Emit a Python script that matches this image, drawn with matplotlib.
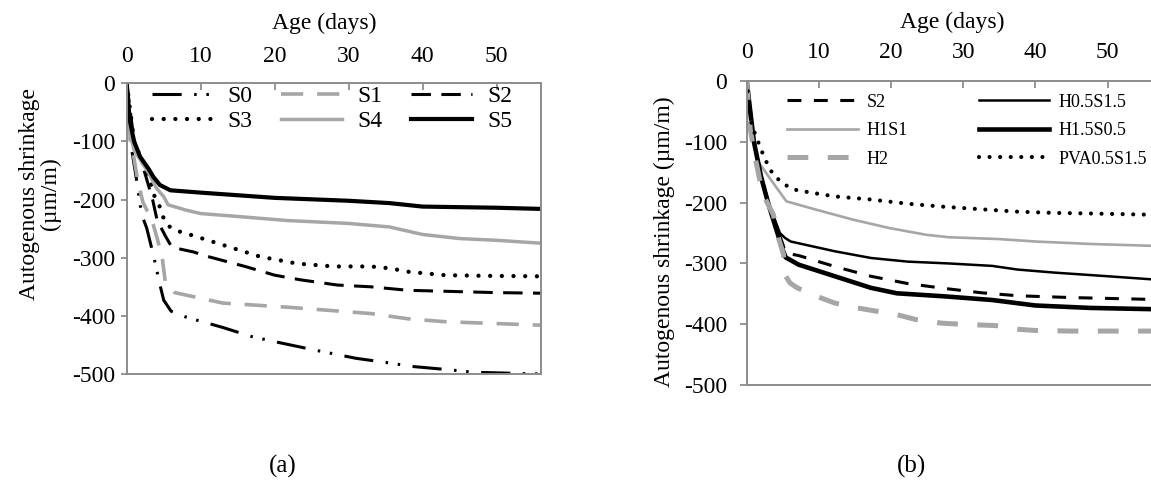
import matplotlib
matplotlib.use("Agg")
import matplotlib.pyplot as plt

plt.rcParams['font.family'] = ['Liberation Serif', 'DejaVu Serif']
plt.rcParams['axes.unicode_minus'] = False
plt.rcParams['lines.scale_dashes'] = False

# ---------------- data: panel (a) ----------------
S0_days = [0, 0.5, 1.4, 2.0, 2.7, 3.6, 4.5, 5.0, 6.0, 8, 13, 17, 21, 25.5, 31, 35, 38.6, 43, 47, 56]
S0_vals = [0, -100, -172, -225, -249, -295, -347, -373, -392, -402, -420, -436, -447, -459, -473, -480, -487, -492, -497, -500]
S1_days = [0, 0.5, 1.0, 1.5, 2.2, 3.4, 4.1, 4.8, 5.2, 6.5, 13, 21.7, 33, 38, 43, 56]
S1_vals = [0, -100, -130, -168, -205, -235, -266, -300, -340, -360, -378, -385, -396, -405, -410, -416]
S2_days = [0, 1, 2, 2.7, 3.5, 4.1, 5.2, 6.1, 9, 11, 16, 20, 23.5, 28.5, 33, 38, 44, 50, 56]
S2_vals = [0, -100, -135, -165, -200, -235, -262, -282, -290, -298, -315, -330, -338, -347, -350, -356, -358, -360, -361]
S3_days = [0, 1, 2, 3, 3.6, 4.4, 5.2, 6.3, 8, 13, 18, 23, 28, 33, 35.5, 38, 43, 48, 56]
S3_vals = [0, -100, -132, -160, -190, -210, -240, -252, -258, -278, -298, -310, -315, -315, -318, -324, -330, -331, -332]
S4_days = [0, 0.3, 1, 2, 3, 4, 5, 5.6, 8, 10, 15, 21.7, 30, 35.5, 40, 45, 50, 56]
S4_vals = [0, -80, -115, -135, -155, -180, -195, -209, -218, -224, -229, -236, -241, -247, -260, -267, -270, -275]
S5_days = [0, 0.4, 1, 1.8, 3, 3.6, 4.5, 5.9, 10, 20, 30, 35.5, 40, 45, 50, 56]
S5_vals = [0, -63, -100, -126, -148, -161, -175, -184, -188, -197, -202, -206, -212, -213, -214, -216]

# ---------------- data: panel (b) ----------------
S2b_days = [0, 1, 2, 3, 4, 5, 5.4, 7.2, 12.2, 17.2, 22.3, 27.4, 32.4, 37.5, 45, 56]
S2b_vals = [0, -100, -158, -200, -235, -268, -283, -287, -305, -321, -333, -341, -348, -353, -356, -359]
H05_days = [0, 1, 2, 3, 4, 4.6, 5.3, 6.1, 12.2, 17.2, 22.3, 28, 34, 37.5, 42.6, 50, 56]
H05_vals = [0, -100, -155, -198, -231, -250, -258, -264, -280, -291, -297, -300, -304, -310, -315, -321, -326]
H1_days = [0, 0.5, 1, 1.6, 3.5, 5.5, 9.7, 14.7, 19.8, 24.9, 28, 35, 40, 47.6, 56]
H1_vals = [0, -70, -100, -133, -165, -198, -212, -228, -242, -253, -257, -260, -264, -268, -271]
H15_days = [0, 1, 2, 3, 4, 5, 5.4, 7.2, 12.2, 17.2, 20.8, 27.4, 34, 40, 47.6, 56]
H15_vals = [0, -100, -158, -202, -240, -278, -290, -302, -321, -340, -349, -354, -360, -369, -373, -375]
H2_days = [0, 0.5, 1.2, 1.85, 2.5, 3.7, 4.4, 5.1, 5.25, 6, 7, 9.7, 12.2, 15.3, 17.8, 20.8, 23.4, 27, 30, 34.5, 37.5, 40, 45, 56]
H2_vals = [0, -80, -127, -165, -192, -220, -258, -285, -318, -332, -340, -354, -365, -373, -378, -384, -392, -398, -400, -402, -408, -410, -411, -411]
PVA_days = [0, 0.7, 2.1, 2.8, 3.7, 5.3, 7, 12.2, 17.2, 22.3, 27.4, 32.4, 37.5, 42.6, 47.6, 56]
PVA_vals = [0, -73, -116, -135, -155, -171, -180, -190, -195, -202, -207, -211, -215, -217, -218, -220]

x_ticks = [0, 10, 20, 30, 40, 50]
y_ticks = [0, -100, -200, -300, -400, -500]

GRAY = '#A6A6A6'
SPINE = '#8C8C8C'

fig = plt.figure(figsize=(11.51, 4.80), dpi=100)
axa = fig.add_axes([0.1101, 0.2208, 0.3599, 0.6056])
axb = fig.add_axes([0.6487, 0.1973, 0.3513, 0.6346])


def style_axes(ax, xpad, ypad, ylen):
    ax.set_xlim(0, 56)
    ax.set_ylim(-500, 0)
    ax.set_xticks(x_ticks)
    ax.set_yticks(y_ticks)
    ax.xaxis.tick_top()
    ax.xaxis.set_label_position('top')
    ax.tick_params(axis='x', direction='in', length=5, width=1.3, color=SPINE,
                   labelsize=17, pad=xpad)
    ax.tick_params(axis='y', direction='out', length=ylen, width=1.3, color=SPINE,
                   labelsize=17, pad=ypad)
    for s in ax.spines.values():
        s.set_color(SPINE)
        s.set_linewidth(1.4)


# ---- panel (a)
la0, = axa.plot(S0_days, S0_vals, color='black', lw=2.2, dashes=(21, 9, 1.8, 7, 1.8, 9), label='S0')
la1, = axa.plot(S1_days, S1_vals, color=GRAY, lw=2.6, dashes=(16, 10), label='S1')
la2, = axa.plot(S2_days, S2_vals, color='black', lw=2.2, dashes=(14, 7.5), label='S2')
la3, = axa.plot(S3_days, S3_vals, color='black', lw=3.1, dashes=(0.01, 8.4), dash_capstyle='round', label='S3')
la4, = axa.plot(S4_days, S4_vals, color=GRAY, lw=2.5, label='S4')
la5, = axa.plot(S5_days, S5_vals, color='black', lw=3.0, label='S5')
style_axes(axa, xpad=12, ypad=4.5, ylen=4)
axa.set_xlabel('Age (days)', fontsize=17)
axa.xaxis.set_label_coords(0.476, 1.207)
axa.xaxis.label.set_va('center')
axa.set_ylabel('Autogenous shrinkage\n(µm/m)', fontsize=17, linespacing=1.0)
axa.yaxis.set_label_coords(-0.21, 0.62)
axa.yaxis.label.set_va('center')
axa.legend(handles=[la0, la3, la1, la4, la2, la5], ncol=3, loc='upper left',
           bbox_to_anchor=(0.060, 0.991), frameon=False,
           fontsize=17, handlelength=2.58, handletextpad=0.64, columnspacing=1.21,
           labelspacing=0.14, borderpad=0, borderaxespad=0)

# ---- panel (b)
lb1, = axb.plot(S2b_days, S2b_vals, color='black', lw=2.2, dashes=(10, 9), label='S2')
lb2, = axb.plot(H05_days, H05_vals, color='black', lw=1.8, label='H0.5S1.5')
lb3, = axb.plot(H1_days, H1_vals, color=GRAY, lw=1.9, label='H1S1')
lb4, = axb.plot(H15_days, H15_vals, color='black', lw=3.3, label='H1.5S0.5')
lb5, = axb.plot(H2_days, H2_vals, color=GRAY, lw=3.6, dashes=(15, 14), label='H2')
lb6, = axb.plot(PVA_days, PVA_vals, color='black', lw=3.0, dashes=(0.01, 7.6), dash_capstyle='round', label='PVA0.5S1.5')
style_axes(axb, xpad=13, ypad=9, ylen=5)
axb.spines['right'].set_visible(False)
axb.set_xlabel('Age (days)', fontsize=17)
axb.xaxis.set_label_coords(0.508, 1.19)
axb.xaxis.label.set_va('center')
axb.set_ylabel('Autogenous shrinkage (µm/m)', fontsize=17)
axb.yaxis.set_label_coords(-0.2045, 0.471)
axb.yaxis.label.set_va('center')
axb.legend(handles=[lb1, lb3, lb5, lb2, lb4, lb6], ncol=2, loc='upper left',
           bbox_to_anchor=(0.101, 0.957), frameon=False, fontsize=13,
           handlelength=3.89, handletextpad=0.5, columnspacing=3.93,
           labelspacing=0.63, borderpad=0, borderaxespad=0)

fig.text(282.7 / 1151, 1 - 466.7 / 480, '(a)', fontsize=18, ha='center', va='center')
fig.text(912 / 1151, 1 - 466.7 / 480, '(b)', fontsize=18, ha='center', va='center')

fig.savefig('out.png', dpi=100)
